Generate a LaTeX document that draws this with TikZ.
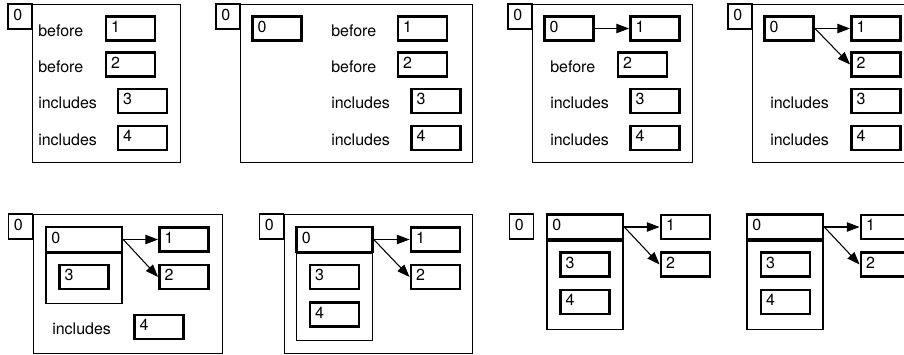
\documentclass[tikz,border=0pt]{standalone}
\usepackage{fontspec}
\setmainfont{TeX Gyre Heros}
\usetikzlibrary{arrows.meta}
\begin{document}
\begin{tikzpicture}[x=0.75pt,y=-0.75pt,
  font=\fontsize{12}{14}\selectfont,
  box/.style={draw, line width=1.9pt, minimum height=18pt, inner xsep=4pt, inner ysep=0pt,
    text width=29pt, align=left, text height=8.6pt, text depth=3pt},
  headbox/.style={box, text width=49pt, minimum height=18.75pt},
  smallbox/.style={draw, line width=0.9pt, minimum height=18.75pt, inner xsep=4pt, inner ysep=0pt,
    text width=10pt, align=left, text height=8.6pt, text depth=3pt},
  outerbox/.style={draw, line width=0.9pt, anchor=north west, inner sep=0pt},
  holder/.style={draw, line width=0.9pt, anchor=north, inner sep=0pt, minimum width=57pt},
  lbl/.style={inner sep=0pt, anchor=base west},
  arr/.style={line width=0.8pt, -{Triangle[length=9.5pt,width=7pt]}}]
\useasboundingbox (0,0) rectangle (904,354);
\clip (0,0) rectangle (904,354);
% ---------- panel 1
\node[smallbox] (s1) at (20,16.5) {0};
\node[outerbox, minimum width=111pt, minimum height=118.5pt] (o1) at (32,4) {};
\node[lbl] (l1a) at (38,36) {before};
\node[box] (p1b1) at (130.5,28.5) {1};
\node[lbl] (l1b) at (38,72) {before};
\node[box] (p1b2) at (130.5,64.5) {2};
\node[lbl] (l1c) at (38,108) {includes};
\node[box] (p1b3) at (142.5,101) {3};
\node[lbl] (l1d) at (38,145) {includes};
\node[box] (p1b4) at (142.5,138) {4};
% ---------- panel 2
\node[smallbox] (s2) at (228,16.5) {0};
\node[outerbox, minimum width=174pt, minimum height=118.5pt] (o2) at (240,4) {};
\node[box] (p2b0) at (277,28.5) {0};
\node[lbl] (l2a) at (331,36) {before};
\node[box] (p2b1) at (422.5,28.5) {1};
\node[lbl] (l2b) at (331,72) {before};
\node[box] (p2b2) at (422.5,64.5) {2};
\node[lbl] (l2c) at (331,108) {includes};
\node[box] (p2b3) at (436,101) {3};
\node[lbl] (l2d) at (331,145) {includes};
\node[box] (p2b4) at (436,138) {4};
% ---------- panel 3
\node[smallbox] (s3) at (520,16.5) {0};
\node[outerbox, minimum width=120pt, minimum height=118.5pt] (o3) at (532,4) {};
\node[box] (p3b0) at (569,28.5) {0};
\node[box] (p3b1) at (655,28.5) {1};
\draw[arr] (p3b0.east) -- (p3b1.west);
\node[lbl] (l3b) at (550,72) {before};
\node[box] (p3b2) at (642.5,64.5) {2};
\node[lbl] (l3c) at (550,108) {includes};
\node[box] (p3b3) at (655,101) {3};
\node[lbl] (l3d) at (550,145) {includes};
\node[box] (p3b4) at (655,138) {4};
% ---------- panel 4
\node[smallbox] (s4) at (740,16.5) {0};
\node[outerbox, minimum width=120pt, minimum height=118.5pt] (o4) at (752,4) {};
\node[box] (p4b0) at (789,28.5) {0};
\node[box] (p4b1) at (876,28.5) {1};
\node[box] (p4b2) at (876,64.5) {2};
\draw[arr] (p4b0.east) -- (p4b1.west);
\draw[arr] (p4b0.east) -- (p4b2.west);
\node[lbl] (l4c) at (770,108) {includes};
\node[box] (p4b3) at (876,101) {3};
\node[lbl] (l4d) at (770,145) {includes};
\node[box] (p4b4) at (876,138) {4};
% ---------- panel 5
\node[smallbox] (s5) at (20.5,226.5) {0};
\node[outerbox, minimum width=141.75pt, minimum height=104.25pt] (o5) at (33,214) {};
\node[headbox] (p5h) at (84,239.5) {0};
\node[holder, minimum height=37.5pt] (c5) at (p5h.south) {};
\node[box] (p5b3) at (84,277) {3};
\node[box] (p5b1) at (184,239.5) {1};
\node[box] (p5b2) at (184,277) {2};
\draw[arr] (p5h.east) -- (p5b1.west);
\draw[arr] (p5h.east) -- (p5b2.west);
\node[lbl] (l5) at (52,334) {includes};
\node[box] (p5b4) at (159,327) {4};
% ---------- panel 6
\node[smallbox] (s6) at (271.5,226.5) {0};
\node[outerbox, minimum width=141pt, minimum height=104.25pt] (o6) at (284,214) {};
\node[headbox] (p6h) at (334.5,239.5) {0};
\node[holder, minimum height=65.25pt] (c6) at (p6h.south) {};
\node[box] (p6b3) at (334.5,277) {3};
\node[box] (p6b4) at (334.5,314.5) {4};
\node[box] (p6b1) at (435.5,239.5) {1};
\node[box] (p6b2) at (435.5,277) {2};
\draw[arr] (p6h.east) -- (p6b1.west);
\draw[arr] (p6h.east) -- (p6b2.west);
% ---------- panel 7
\node[smallbox] (s7) at (521.5,226.5) {0};
\node[headbox] (p7h) at (585,227) {0};
\node[holder, minimum height=66pt] (c7) at (p7h.south) {};
\node[box] (p7b3) at (585,264.5) {3};
\node[box] (p7b4) at (585,302) {4};
\node[box] (p7b1) at (685.5,227) {1};
\node[box] (p7b2) at (685.5,264.5) {2};
\draw[arr] (p7h.east) -- (p7b1.west);
\draw[arr] (p7h.east) -- (p7b2.west);
% ---------- panel 8
\node[headbox] (p8h) at (785,227) {0};
\node[holder, minimum height=66pt] (c8) at (p8h.south) {};
\node[box] (p8b3) at (785.5,264.5) {3};
\node[box] (p8b4) at (785.5,302) {4};
\node[box] (p8b1) at (885.5,227) {1};
\node[box] (p8b2) at (885.5,264.5) {2};
\draw[arr] (p8h.east) -- (p8b1.west);
\draw[arr] (p8h.east) -- (p8b2.west);
\end{tikzpicture}
\end{document}
